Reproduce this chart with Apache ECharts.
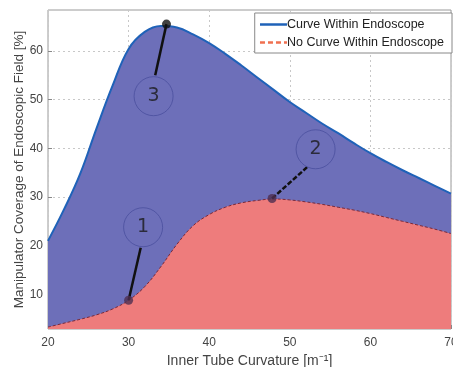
<!DOCTYPE html>
<html>
<head>
<meta charset="utf-8">
<script src="https://cdn.jsdelivr.net/npm/echarts@6/dist/echarts.min.js"></script>
<style>
  html, body { margin: 0; padding: 0; background: #fff; }
  #chart { width: 453px; height: 367px; }
</style>
</head>
<body>
<div id="chart"></div>
<script>
// Inner tube curvature samples [1/m]
const curvature = [20, 22, 24, 26, 28, 30, 32, 34, 36, 38, 40, 42, 44, 46, 48, 50, 52, 54, 56, 58, 60, 62, 64, 66, 68, 70];
// Coverage [%] when the curve lies within the endoscope
const coverWithin = [21.0, 27.5, 34.8, 44.0, 52.8, 60.4, 63.9, 65.1, 64.8, 63.4, 61.6, 59.4, 57.0, 54.5, 52.0, 49.5, 47.3, 45.1, 43.1, 41.0, 39.0, 37.2, 35.5, 33.9, 32.3, 30.7];
// Coverage [%] without the curve inside the endoscope
const coverNoCurve = [3.3, 4.1, 4.9, 5.8, 7.0, 8.8, 11.6, 15.7, 20.3, 24.1, 26.4, 27.9, 28.8, 29.3, 29.6, 29.4, 29.0, 28.5, 27.9, 27.3, 26.6, 25.8, 25.0, 24.2, 23.4, 22.5];

const yTicks = [10, 20, 30, 40, 50, 60];

// Numbered callouts: marked point, badge centre, end of the leader line
const calloutIds = ['1', '2', '3'];
const calloutPoints = [[30, 8.8], [47.8, 29.7], [34.7, 65.5]];
const calloutBadges = [[31.8, 23.8], [53.2, 39.8], [33.1, 50.7]];
const calloutLeaderEnds = [[31.5, 19.6], [52.2, 36.2], [33.3, 55.0]];

const nameWithin = 'Curve Within Endoscope';
const nameNoCurve = 'No Curve Within Endoscope';

const zip = (xs, ys) => xs.map((x, i) => [x, ys[i]]);
const font = 'Liberation Sans, Arial, sans-serif';

const leaderSeries = calloutIds.map((id, i) => ({
  type: 'line',
  data: [calloutPoints[i], calloutLeaderEnds[i]],
  symbol: 'none',
  silent: true,
  z: 5,
  lineStyle: { color: '#111', width: 2.5, type: id === '2' ? [5, 2] : 'solid' }
}));

const chart = echarts.init(document.getElementById('chart'));
chart.setOption({
  animation: false,
  grid: {
    left: 48, right: 2, top: 10, bottom: 38,
    outerBoundsMode: 'none', containLabel: false,
    show: true, borderColor: '#9a9a9a', borderWidth: 1, backgroundColor: 'transparent'
  },
  legend: {
    right: 1, top: 13,
    orient: 'vertical',
    backgroundColor: '#fff',
    borderColor: '#888', borderWidth: 1,
    padding: [5, 8, 4, 4],
    itemGap: 5,
    itemWidth: 27, itemHeight: 10,
    itemStyle: { opacity: 0 },
    textStyle: { fontFamily: font, fontSize: 12.5, color: '#222', padding: [0, 0, 0, -5] },
    data: [
      { name: nameWithin, lineStyle: { color: '#1f62b8', width: 2.5 } },
      { name: nameNoCurve, lineStyle: { color: '#f07050', width: 2.5, type: [5, 3] } }
    ]
  },
  xAxis: {
    type: 'value', min: 20, max: 70, interval: 10,
    name: 'Inner Tube Curvature [m\u207B\u00B9]',
    nameLocation: 'middle', nameGap: 19,
    nameTextStyle: { fontFamily: font, fontSize: 14, color: '#444' },
    axisLine: { show: false },
    axisTick: { show: true, inside: true, length: 4, lineStyle: { color: '#888' } },
    axisLabel: { fontFamily: font, fontSize: 12, color: '#444', margin: 8 },
    splitLine: { show: true, lineStyle: { color: '#c8c8c8', type: [2, 3], width: 1 } }
  },
  yAxis: {
    type: 'value', min: 2.9, max: 68.4,
    name: 'Manipulator Coverage of Endoscopic Field [%]',
    nameLocation: 'middle', nameGap: 22, nameMoveOverlap: false,
    nameTextStyle: { fontFamily: font, fontSize: 13.5, color: '#444' },
    axisLine: { show: false },
    axisTick: { show: true, inside: true, length: 4, customValues: yTicks, lineStyle: { color: '#888' } },
    axisLabel: { fontFamily: font, fontSize: 12, color: '#444', margin: 5, customValues: yTicks },
    splitLine: { show: true, lineStyle: { color: '#c8c8c8', type: [2, 3], width: 1 } }
  },
  series: [
    {
      name: nameWithin,
      type: 'line',
      data: zip(curvature, coverWithin),
      smooth: 0.4,
      symbol: 'none',
      z: 2,
      lineStyle: { color: '#1f62b8', width: 2 },
      itemStyle: { color: '#1f62b8' },
      areaStyle: { color: '#6d6fb9', opacity: 1, origin: 'start' }
    },
    {
      name: nameNoCurve,
      type: 'line',
      data: zip(curvature, coverNoCurve),
      smooth: 0.4,
      symbol: 'none',
      z: 3,
      lineStyle: { color: '#7a2a3a', width: 1, type: [3, 2] },
      itemStyle: { color: '#f07050' },
      areaStyle: { color: '#ee7c7c', opacity: 1, origin: 'start' }
    },
    ...leaderSeries,
    {
      // marked points on the curves
      type: 'scatter',
      data: calloutPoints.map((p, i) => ({
        value: p,
        itemStyle: { color: i === 2 ? '#111' : '#4e2e50' }
      })),
      symbolSize: 9,
      silent: true,
      z: 6
    },
    {
      // numbered badges
      type: 'scatter',
      data: calloutBadges.map((p, i) => ({ value: p, name: calloutIds[i] })),
      symbol: 'circle',
      symbolSize: 39,
      silent: true,
      z: 7,
      itemStyle: { color: 'rgba(0,0,0,0)', borderColor: '#4a4f9e', borderWidth: 1 },
      label: {
        show: true, position: 'inside', formatter: '{b}',
        fontFamily: 'DejaVu Sans, sans-serif', fontSize: 19, color: '#1a1a1a'
      }
    }
  ]
});
</script>
</body>
</html>
